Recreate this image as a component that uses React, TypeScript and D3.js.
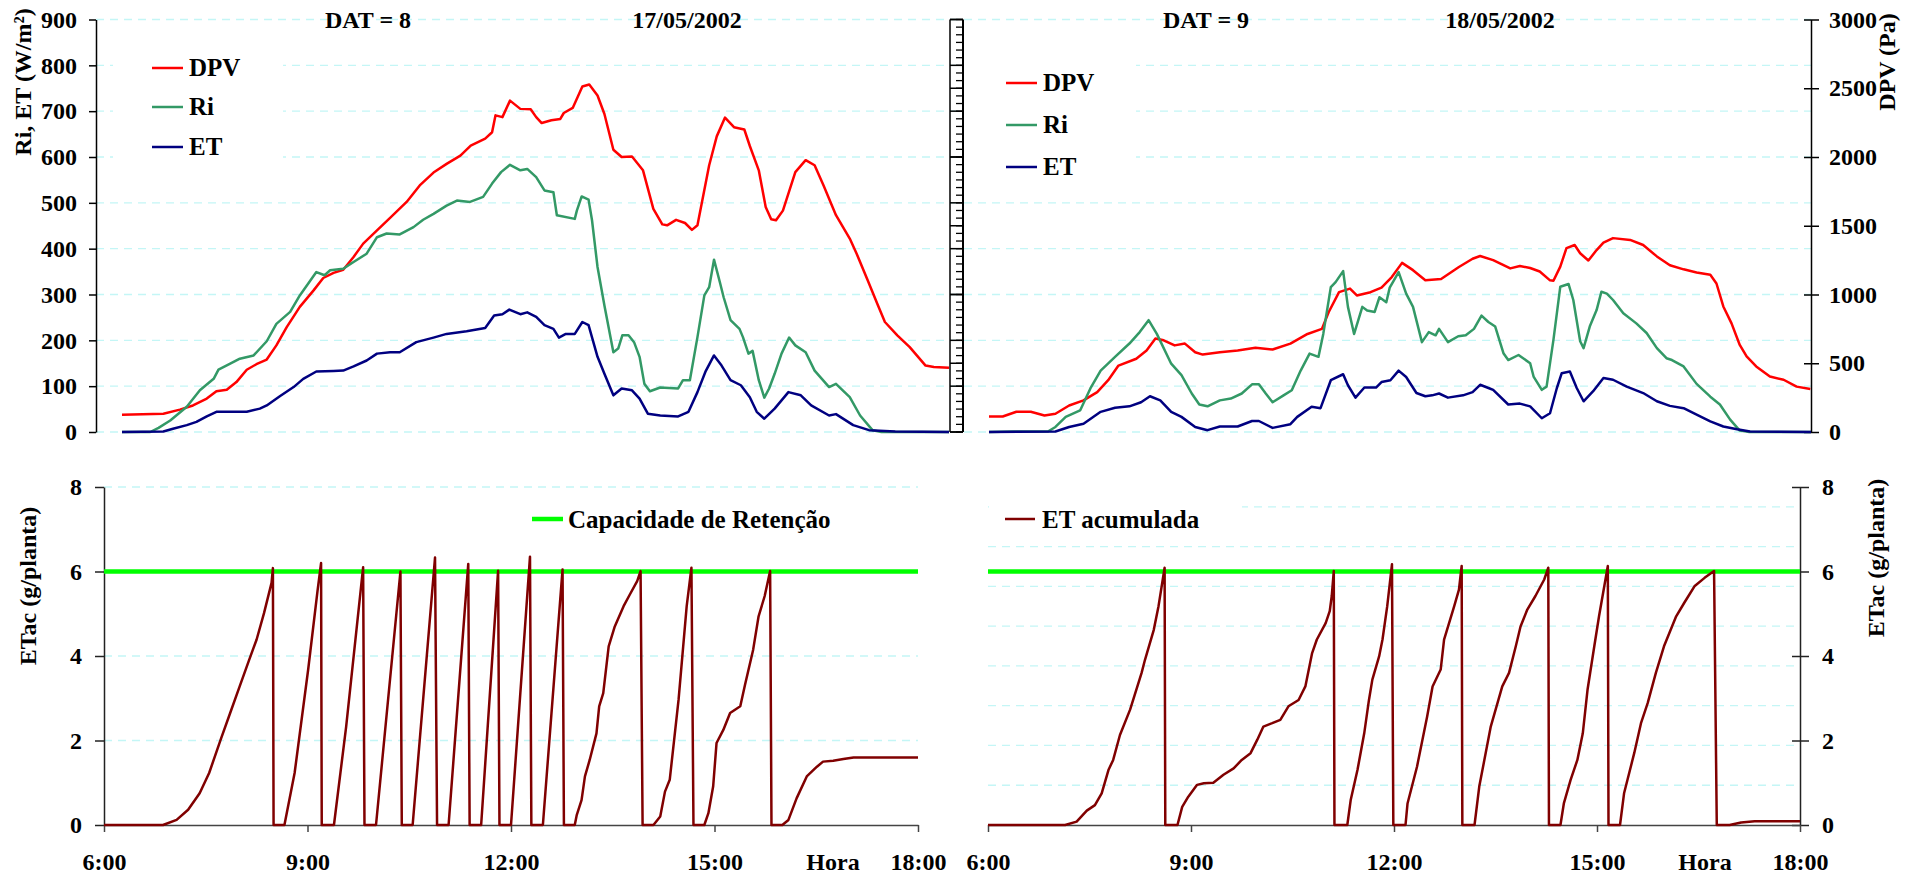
import React, { useEffect, useRef } from "react";
import * as d3 from "d3";

type Pt = [number, number];

// eixos
const hourTicks = [6, 9, 12, 15, 18];
const riEtTicks = [0, 100, 200, 300, 400, 500, 600, 700, 800, 900];
const dpvTicks = [0, 500, 1000, 1500, 2000, 2500, 3000];
const etacTicks = [0, 2, 4, 6, 8];
const etacRightGrid = [1, 2, 3, 4, 5, 6, 7, 8];
const etacRightGridMax = 8.5;
const capacidadeRetencao = 6;

// DAT = 8 (17/05/2002) -- [hora, valor]
const dpvDat8: Pt[] = [
  [6.0, 126], [6.6, 133], [6.84, 163], [7.03, 193], [7.23, 243], [7.37, 297], [7.52, 307], [7.66, 363],
  [7.81, 453], [7.95, 493], [8.1, 527], [8.24, 630], [8.39, 763], [8.58, 910], [8.78, 1030], [8.92, 1120],
  [9.07, 1157], [9.21, 1180], [9.36, 1273], [9.5, 1370], [9.7, 1467], [9.89, 1557], [10.13, 1673],
  [10.32, 1793], [10.52, 1887], [10.71, 1950], [10.91, 2010], [11.06, 2083], [11.27, 2133], [11.37, 2180],
  [11.42, 2303], [11.52, 2290], [11.63, 2410], [11.78, 2350], [11.93, 2347], [12.01, 2290], [12.09, 2247],
  [12.23, 2267], [12.36, 2277], [12.41, 2320], [12.54, 2357], [12.68, 2513], [12.78, 2527], [12.9, 2447],
  [13.0, 2313], [13.13, 2053], [13.25, 2000], [13.4, 2003], [13.56, 1903], [13.71, 1623], [13.84, 1510],
  [13.91, 1503], [14.04, 1543], [14.17, 1520], [14.27, 1470], [14.35, 1503], [14.52, 1940], [14.63, 2150],
  [14.75, 2287], [14.88, 2217], [15.03, 2200], [15.11, 2080], [15.24, 1903], [15.34, 1637], [15.42, 1547],
  [15.49, 1540], [15.59, 1610], [15.77, 1890], [15.92, 1977], [16.05, 1940], [16.18, 1793], [16.36, 1577],
  [16.56, 1407], [16.66, 1297], [16.82, 1103], [16.97, 920], [17.07, 800], [17.25, 703], [17.43, 617],
  [17.66, 483], [17.78, 473], [18.0, 467],
];
const riDat8: Pt[] = [
  [6.0, 0], [6.41, 0], [6.53, 9], [6.7, 25], [6.94, 55], [7.13, 91], [7.33, 116], [7.4, 136], [7.57, 149],
  [7.71, 160], [7.91, 167], [8.1, 198], [8.24, 236], [8.44, 262], [8.58, 298], [8.82, 349], [8.94, 342],
  [9.02, 353], [9.21, 356], [9.36, 371], [9.55, 389], [9.7, 425], [9.84, 433], [10.03, 431], [10.23, 447],
  [10.37, 463], [10.52, 476], [10.71, 494], [10.86, 505], [11.05, 502], [11.24, 513], [11.37, 542],
  [11.5, 567], [11.63, 583], [11.78, 571], [11.88, 574], [12.01, 556], [12.13, 527], [12.26, 523],
  [12.31, 473], [12.57, 465], [12.6, 483], [12.67, 514], [12.77, 507], [12.82, 462], [12.9, 360],
  [13.0, 276], [13.13, 174], [13.2, 182], [13.26, 211], [13.35, 211], [13.43, 196], [13.51, 164],
  [13.58, 105], [13.66, 89], [13.81, 97], [14.07, 95], [14.14, 113], [14.24, 113], [14.35, 207],
  [14.45, 298], [14.52, 316], [14.59, 376], [14.68, 324], [14.73, 294], [14.83, 244], [14.96, 225],
  [15.01, 207], [15.09, 171], [15.15, 177], [15.24, 113], [15.32, 75], [15.39, 95], [15.47, 127],
  [15.57, 171], [15.68, 206], [15.77, 189], [15.92, 174], [16.05, 134], [16.26, 98], [16.36, 105],
  [16.56, 76], [16.71, 36], [16.89, 4], [17.02, 0], [18.0, 0],
];
const etDat8: Pt[] = [
  [6.0, 0], [6.6, 1], [6.74, 7], [6.94, 15], [7.08, 22], [7.23, 34], [7.37, 44], [7.62, 44], [7.81, 44],
  [8.0, 51], [8.1, 58], [8.29, 78], [8.49, 98], [8.63, 116], [8.82, 132], [9.07, 133], [9.21, 134],
  [9.36, 143], [9.55, 156], [9.7, 171], [9.89, 174], [10.03, 174], [10.27, 196], [10.52, 206], [10.71, 214],
  [11.0, 220], [11.27, 227], [11.4, 254], [11.52, 257], [11.62, 267], [11.78, 257], [11.88, 261],
  [12.01, 251], [12.13, 233], [12.26, 225], [12.34, 206], [12.44, 214], [12.57, 214], [12.68, 240],
  [12.77, 233], [12.9, 164], [13.0, 127], [13.13, 80], [13.25, 95], [13.4, 91], [13.51, 73], [13.63, 40],
  [13.81, 36], [14.07, 34], [14.22, 44], [14.35, 87], [14.47, 133], [14.59, 167], [14.7, 145], [14.83, 113],
  [14.98, 102], [15.11, 76], [15.21, 44], [15.32, 29], [15.47, 51], [15.67, 87], [15.85, 80], [16.0, 58],
  [16.26, 36], [16.36, 39], [16.61, 15], [16.84, 4], [17.22, 1], [18.0, 0],
];

// DAT = 9 (18/05/2002)
const dpvDat9: Pt[] = [
  [6.0, 113], [6.2, 113], [6.4, 147], [6.61, 147], [6.81, 120], [6.97, 133], [7.17, 193], [7.38, 230],
  [7.58, 290], [7.74, 377], [7.89, 483], [8.15, 533], [8.3, 593], [8.43, 680], [8.55, 667], [8.71, 630],
  [8.86, 643], [9.01, 580], [9.12, 563], [9.37, 580], [9.63, 593], [9.89, 613], [10.14, 600], [10.4, 643],
  [10.65, 713], [10.86, 750], [10.96, 873], [11.11, 1017], [11.27, 1043], [11.37, 993], [11.57, 1017],
  [11.73, 1050], [11.88, 1127], [12.03, 1230], [12.19, 1177], [12.37, 1103], [12.6, 1113], [12.86, 1200],
  [13.06, 1260], [13.17, 1280], [13.36, 1250], [13.61, 1190], [13.75, 1207], [13.9, 1193], [14.04, 1167],
  [14.19, 1103], [14.24, 1100], [14.34, 1203], [14.43, 1337], [14.55, 1360], [14.63, 1300], [14.75, 1247],
  [14.87, 1323], [14.97, 1377], [15.11, 1410], [15.36, 1397], [15.55, 1360], [15.75, 1277], [15.94, 1213],
  [16.14, 1183], [16.33, 1160], [16.53, 1143], [16.62, 1080], [16.72, 913], [16.84, 790], [16.96, 633],
  [17.06, 550], [17.2, 477], [17.4, 403], [17.6, 380], [17.79, 330], [17.99, 313],
];
const riDat9: Pt[] = [
  [6.0, 0], [6.35, 1], [6.86, 1], [6.97, 11], [7.12, 33], [7.33, 47], [7.48, 95], [7.63, 134], [7.84, 164],
  [8.05, 193], [8.2, 218], [8.33, 244], [8.45, 214], [8.66, 149], [8.81, 124], [8.96, 84], [9.07, 60],
  [9.19, 56], [9.37, 69], [9.53, 73], [9.69, 84], [9.84, 104], [9.94, 104], [10.04, 84], [10.14, 65],
  [10.3, 80], [10.42, 91], [10.55, 134], [10.68, 171], [10.81, 164], [10.88, 214], [10.99, 316],
  [11.06, 327], [11.17, 351], [11.24, 273], [11.33, 214], [11.45, 273], [11.52, 265], [11.63, 262],
  [11.7, 294], [11.8, 283], [11.85, 315], [11.98, 349], [12.09, 302], [12.19, 273], [12.32, 196],
  [12.42, 218], [12.52, 211], [12.57, 225], [12.7, 196], [12.85, 209], [12.96, 211], [13.08, 225],
  [13.19, 254], [13.29, 240], [13.39, 230], [13.51, 172], [13.58, 157], [13.73, 168], [13.9, 150],
  [13.95, 121], [14.07, 92], [14.14, 99], [14.24, 201], [14.34, 317], [14.46, 323], [14.53, 288],
  [14.63, 198], [14.68, 183], [14.77, 230], [14.87, 266], [14.94, 306], [15.02, 302], [15.11, 288],
  [15.26, 259], [15.45, 237], [15.6, 216], [15.75, 183], [15.89, 161], [15.97, 157], [16.14, 143],
  [16.33, 105], [16.53, 77], [16.67, 60], [16.82, 27], [16.96, 3], [17.1, 0], [18.0, 0],
];
const etDat9: Pt[] = [
  [6.0, 0], [6.97, 1], [7.17, 11], [7.38, 18], [7.63, 44], [7.84, 53], [8.05, 56], [8.22, 65], [8.35, 78],
  [8.5, 69], [8.66, 44], [8.81, 33], [9.01, 11], [9.19, 4], [9.37, 12], [9.63, 12], [9.84, 24], [9.94, 24],
  [10.14, 9], [10.4, 17], [10.5, 33], [10.71, 55], [10.84, 52], [10.99, 113], [11.17, 126], [11.24, 102],
  [11.35, 75], [11.48, 97], [11.65, 97], [11.73, 109], [11.86, 113], [11.98, 134], [12.09, 120],
  [12.24, 85], [12.37, 78], [12.47, 80], [12.57, 84], [12.7, 75], [12.92, 80], [13.06, 87], [13.17, 103],
  [13.31, 95], [13.36, 92], [13.58, 60], [13.75, 62], [13.9, 56], [14.07, 30], [14.19, 41], [14.29, 96],
  [14.36, 128], [14.48, 132], [14.58, 96], [14.68, 67], [14.82, 89], [14.97, 118], [15.11, 114],
  [15.31, 99], [15.55, 85], [15.75, 67], [15.94, 57], [16.14, 52], [16.33, 38], [16.53, 23], [16.72, 12],
  [16.92, 6], [17.11, 1], [18.0, 0],
];

// ET acumulada (g/planta)
const etacDat8: Pt[] = [
  [6.0, 0], [6.87, 0], [7.07, 0.12], [7.24, 0.36], [7.41, 0.75], [7.55, 1.23], [7.72, 2.02], [7.86, 2.65],
  [8.0, 3.28], [8.14, 3.91], [8.25, 4.39], [8.36, 5.02], [8.47, 5.73], [8.49, 6.08],
  [8.5, 0], [8.66, 0], [8.81, 1.23], [9.01, 3.68], [9.15, 5.57], [9.2, 6.2],
  [9.21, 0], [9.39, 0], [9.57, 2.33], [9.82, 6.1],
  [9.84, 0], [10.01, 0], [10.37, 6.0],
  [10.39, 0], [10.55, 0], [10.88, 6.33],
  [10.91, 0], [11.08, 0], [11.37, 6.18],
  [11.39, 0], [11.56, 0], [11.81, 6.02],
  [11.83, 0], [12.0, 0], [12.28, 6.35],
  [12.3, 0], [12.47, 0], [12.76, 6.05],
  [12.78, 0], [12.94, 0], [12.97, 0.24], [13.04, 0.59], [13.09, 1.15], [13.16, 1.54], [13.26, 2.17],
  [13.3, 2.81], [13.36, 3.12], [13.44, 4.23], [13.53, 4.7], [13.66, 5.18], [13.75, 5.45], [13.86, 5.77],
  [13.91, 6.01],
  [13.94, 0], [14.1, 0], [14.2, 0.2], [14.27, 0.79], [14.34, 1.07], [14.47, 2.96], [14.59, 5.18], [14.66, 6.09],
  [14.69, 0], [14.85, 0], [14.91, 0.28], [14.98, 0.91], [15.03, 1.94], [15.13, 2.25], [15.23, 2.65],
  [15.38, 2.81], [15.45, 3.32], [15.57, 4.15], [15.65, 4.94], [15.74, 5.42], [15.82, 6.01],
  [15.84, 0], [16.0, 0], [16.09, 0.12], [16.21, 0.63], [16.36, 1.15], [16.51, 1.38], [16.6, 1.5],
  [16.75, 1.52], [16.9, 1.56], [17.05, 1.6], [18.0, 1.6],
];
const etacDat9: Pt[] = [
  [6.0, 0], [7.14, 0], [7.31, 0.08], [7.46, 0.34], [7.58, 0.47], [7.68, 0.75], [7.78, 1.3], [7.85, 1.54],
  [7.95, 2.13], [8.1, 2.73], [8.27, 3.6], [8.32, 3.91], [8.45, 4.62], [8.52, 5.18], [8.61, 6.09],
  [8.62, 0], [8.8, 0], [8.87, 0.43], [8.96, 0.67], [9.09, 0.95], [9.19, 0.99], [9.33, 1.0], [9.48, 1.19],
  [9.63, 1.34], [9.75, 1.54], [9.88, 1.7], [9.98, 2.02], [10.07, 2.33], [10.2, 2.41], [10.32, 2.49],
  [10.44, 2.81], [10.59, 2.96], [10.69, 3.28], [10.79, 4.07], [10.86, 4.39], [10.99, 4.78], [11.05, 5.06],
  [11.08, 5.42], [11.11, 6.01],
  [11.12, 0], [11.31, 0], [11.36, 0.59], [11.46, 1.3], [11.56, 2.17], [11.63, 2.96], [11.68, 3.44],
  [11.78, 3.99], [11.83, 4.39], [11.9, 5.18], [11.97, 6.17],
  [11.99, 0], [12.17, 0], [12.2, 0.51], [12.34, 1.38], [12.49, 2.57], [12.57, 3.28], [12.69, 3.68],
  [12.74, 4.39], [12.89, 5.18], [12.96, 5.57], [13.0, 6.13],
  [13.01, 0], [13.19, 0], [13.26, 0.91], [13.43, 2.33], [13.6, 3.28], [13.7, 3.6], [13.8, 4.23],
  [13.87, 4.7], [13.97, 5.1], [14.09, 5.42], [14.22, 5.81], [14.28, 6.09],
  [14.29, 0], [14.46, 0], [14.51, 0.51], [14.61, 1.07], [14.71, 1.54], [14.79, 2.17], [14.86, 3.2],
  [14.96, 4.23], [15.03, 4.94], [15.16, 6.13],
  [15.17, 0], [15.34, 0], [15.4, 0.75], [15.55, 1.7], [15.65, 2.41], [15.75, 2.89], [15.87, 3.6],
  [15.99, 4.23], [16.17, 4.94], [16.29, 5.26], [16.44, 5.65], [16.59, 5.85], [16.73, 6.01],
  [16.77, 0], [16.96, 0], [17.13, 0.06], [17.33, 0.09], [18.0, 0.09],
];

const serif = '"Liberation Serif", "Times New Roman", serif';
const gridColor = "#c4f6f6";

function App() {
  const ref = useRef<SVGSVGElement>(null);

  useEffect(() => {
    const svg = d3.select(ref.current);
    svg.selectAll("*").remove();

    // escalas
    const xTopL = d3.scaleLinear([6, 18], [122, 949]);
    const xTopR = d3.scaleLinear([6, 18], [989, 1811]);
    const yTop = d3.scaleLinear([0, 900], [432, 19.5]);
    const yDpv = d3.scaleLinear([0, 3000], [432, 19.5]);
    const xBotL = d3.scaleLinear([6, 18], [104, 918]);
    const xBotR = d3.scaleLinear([6, 18], [988, 1800]);
    const yBot = d3.scaleLinear([0, 8], [825, 487]);
    const yBotHidden = d3.scaleLinear([0, etacRightGridMax], [825, 487]);

    // grades
    const grid = svg.append("g")
      .attr("stroke", gridColor)
      .attr("stroke-width", 1.3)
      .attr("stroke-dasharray", "8,6");
    grid.selectAll(".gt").data(riEtTicks).join("line")
      .attr("x1", 96).attr("x2", 1811)
      .attr("y1", d => yTop(d)).attr("y2", d => yTop(d));
    grid.selectAll(".gbl").data(etacTicks.filter(d => d > 0)).join("line")
      .attr("class", "gbl")
      .attr("x1", xBotL(6)).attr("x2", xBotL(18))
      .attr("y1", d => yBot(d)).attr("y2", d => yBot(d));
    grid.selectAll(".gbr").data(etacRightGrid).join("line")
      .attr("class", "gbr")
      .attr("x1", xBotR(6)).attr("x2", xBotR(18))
      .attr("y1", d => yBotHidden(d)).attr("y2", d => yBotHidden(d));

    // fundos das legendas
    const boxes = [
      { x: 113, y: 40, w: 170, h: 140 },
      { x: 964, y: 40, w: 172, h: 150 },
      { x: 989, y: 498, w: 253, h: 40 },
    ];
    svg.append("g").selectAll("rect").data(boxes).join("rect")
      .attr("x", d => d.x).attr("y", d => d.y)
      .attr("width", d => d.w).attr("height", d => d.h)
      .attr("fill", "white");

    const styleAxis = (g: any, color: string) => {
      g.attr("font-family", serif).attr("font-size", 24).attr("font-weight", "bold");
      g.select(".domain").attr("stroke", color).attr("stroke-width", 1.5);
      g.selectAll(".tick line").attr("stroke", color).attr("stroke-width", 1.5);
      g.selectAll(".tick text").attr("fill", "#000");
    };

    // eixos superiores
    svg.append("g")
      .attr("transform", "translate(96,0)")
      .call(d3.axisLeft(yTop).tickValues(riEtTicks).tickFormat(d3.format("d")).tickSize(7).tickSizeOuter(0).tickPadding(12))
      .call((g: any) => styleAxis(g, "#000"));

    svg.append("g")
      .attr("transform", "translate(1811,0)")
      .call(d3.axisRight(yDpv).tickValues(dpvTicks).tickFormat(d3.format("d")).tickSize(8).tickSizeOuter(0).tickPadding(10))
      .call((g: any) => styleAxis(g, "#000"))
      .call((g: any) => g.selectAll(".tick line").attr("x1", -7));

    // eixo duplo central
    const mid = svg.append("g").attr("stroke", "#000");
    mid.append("line").attr("x1", 950).attr("x2", 950)
      .attr("y1", yTop(900)).attr("y2", yTop(0)).attr("stroke-width", 1.5);
    mid.append("line").attr("x1", 963).attr("x2", 963)
      .attr("y1", yTop(900)).attr("y2", yTop(0)).attr("stroke-width", 2);
    const minorTicks = d3.range(0, 54.01, 1).map(i => i * 100 / 6);
    mid.selectAll(".mn").data(minorTicks).join("line")
      .attr("class", "mn")
      .attr("x1", 956).attr("x2", 963)
      .attr("y1", d => yTop(d)).attr("y2", d => yTop(d))
      .attr("stroke-width", 1.3);
    const majorY = riEtTicks.map(d => yTop(d)).concat(dpvTicks.map(d => yDpv(d)));
    mid.selectAll(".mj").data(majorY).join("line")
      .attr("class", "mj")
      .attr("x1", 950).attr("x2", 963)
      .attr("y1", d => d).attr("y2", d => d)
      .attr("stroke-width", 1.5);

    // eixos inferiores
    svg.append("g")
      .attr("transform", "translate(104,0)")
      .call(d3.axisLeft(yBot).tickValues(etacTicks).tickSize(9).tickSizeOuter(0).tickPadding(13))
      .call((g: any) => styleAxis(g, "#222"));
    svg.append("g")
      .attr("transform", "translate(1800,0)")
      .call(d3.axisRight(yBot).tickValues(etacTicks).tickSize(9).tickSizeOuter(0).tickPadding(13))
      .call((g: any) => styleAxis(g, "#222"))
      .call((g: any) => g.selectAll(".tick line").attr("x1", -8));

    const hourFmt = (d: any) => `${d}:00`;
    [xBotL, xBotR].forEach(x => {
      svg.append("g")
        .attr("transform", "translate(0,825)")
        .call(d3.axisBottom(x).tickValues(hourTicks).tickFormat(hourFmt).tickSize(7).tickSizeOuter(0).tickPadding(21))
        .call((g: any) => styleAxis(g, "#444"));
    });

    // linhas
    const draw = (data: Pt[], x: any, y: any, color: string, width: number) => {
      const line = d3.line<Pt>().x(d => x(d[0])).y(d => y(d[1]));
      svg.append("path")
        .datum(data)
        .attr("fill", "none")
        .attr("stroke", color)
        .attr("stroke-width", width)
        .attr("stroke-linejoin", "round")
        .attr("d", line);
    };

    draw(dpvDat8, xTopL, yDpv, "#ff0000", 2.5);
    draw(riDat8, xTopL, yTop, "#339966", 2.5);
    draw(etDat8, xTopL, yTop, "#000080", 2.5);
    draw(dpvDat9, xTopR, yDpv, "#ff0000", 2.5);
    draw(riDat9, xTopR, yTop, "#339966", 2.5);
    draw(etDat9, xTopR, yTop, "#000080", 2.5);

    draw([[6, capacidadeRetencao], [18, capacidadeRetencao]], xBotL, yBot, "#00ff00", 4.5);
    draw([[6, capacidadeRetencao], [18, capacidadeRetencao]], xBotR, yBot, "#00ff00", 4.5);
    draw(etacDat8, xBotL, yBot, "#800000", 2.5);
    draw(etacDat9, xBotR, yBot, "#800000", 2.5);

    // legendas
    const legTop = [
      { name: "DPV", color: "#ff0000" },
      { name: "Ri", color: "#339966" },
      { name: "ET", color: "#000080" },
    ];
    const addLegend = (x0: number, ys: number[]) => {
      const g = svg.append("g");
      legTop.forEach((d, i) => {
        g.append("line").attr("x1", x0).attr("x2", x0 + 31)
          .attr("y1", ys[i]).attr("y2", ys[i])
          .attr("stroke", d.color).attr("stroke-width", 2.5);
        g.append("text").attr("x", x0 + 37).attr("y", ys[i] + 8)
          .attr("font-family", serif).attr("font-size", 25).attr("font-weight", "bold")
          .text(d.name);
      });
    };
    addLegend(152, [68, 107, 147]);
    addLegend(1006, [83, 125, 167]);

    const legBot = svg.append("g");
    legBot.append("line").attr("x1", 532).attr("x2", 563).attr("y1", 519).attr("y2", 519)
      .attr("stroke", "#00ff00").attr("stroke-width", 4.5);
    legBot.append("text").attr("x", 568).attr("y", 528)
      .attr("font-family", serif).attr("font-size", 25).attr("font-weight", "bold")
      .text("Capacidade de Retenção");
    legBot.append("line").attr("x1", 1005).attr("x2", 1035).attr("y1", 519).attr("y2", 519)
      .attr("stroke", "#800000").attr("stroke-width", 2.5);
    legBot.append("text").attr("x", 1042).attr("y", 528)
      .attr("font-family", serif).attr("font-size", 25).attr("font-weight", "bold")
      .text("ET acumulada");

    // títulos e rótulos
    const txt = svg.append("g")
      .attr("font-family", serif).attr("font-size", 24).attr("font-weight", "bold")
      .attr("text-anchor", "middle");
    const labels = [
      { t: "DAT = 8", x: 368, y: 28 },
      { t: "17/05/2002", x: 687, y: 28 },
      { t: "DAT = 9", x: 1206, y: 28 },
      { t: "18/05/2002", x: 1500, y: 28 },
      { t: "Hora", x: 833, y: 870 },
      { t: "Hora", x: 1705, y: 870 },
    ];
    txt.selectAll(".lb").data(labels).join("text")
      .attr("class", "lb")
      .attr("x", d => d.x).attr("y", d => d.y)
      .text(d => d.t);

    const yTitles = [
      { t: "Ri, ET (W/m²)", x: 31, y: 82 },
      { t: "ETac (g/planta)", x: 36, y: 586 },
      { t: "DPV (Pa)", x: 1895, y: 62 },
      { t: "ETac (g/planta)", x: 1884, y: 558 },
    ];
    txt.selectAll(".yt").data(yTitles).join("text")
      .attr("class", "yt")
      .attr("transform", d => `translate(${d.x},${d.y}) rotate(-90)`)
      .text(d => d.t);
  }, []);

  return (
    <svg
      ref={ref}
      width={1914}
      height={877}
      style={{ position: "absolute", left: 0, top: 0, background: "white" }}
    />
  );
}

export default App;
